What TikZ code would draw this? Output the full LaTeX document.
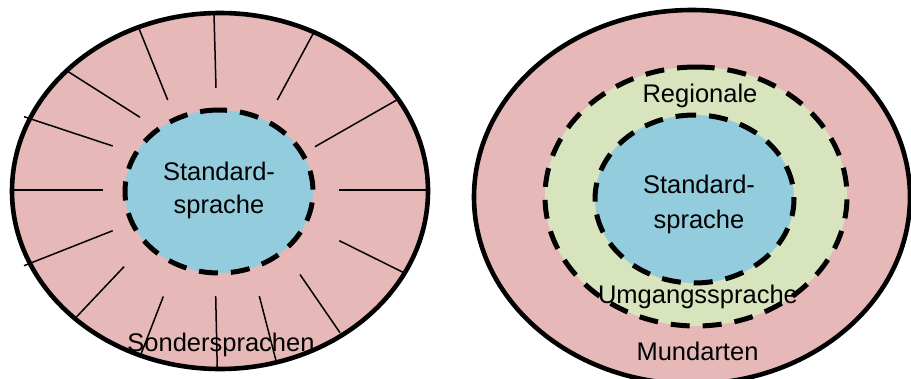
\documentclass[tikz,border=0pt]{standalone}
\usepackage{fontspec}
\setmainfont{Liberation Sans}
\definecolor{dialect}{HTML}{E6B9B8}
\definecolor{colloq}{HTML}{D7E4BD}
\definecolor{standard}{HTML}{93CDDD}
\begin{document}
\begin{tikzpicture}[x=1pt,y=-1pt,
  outerring/.style={fill=dialect, draw=black, line width=4.6pt},
  dashring/.style={draw=black, line width=5pt, dash pattern=on 19pt off 13pt},
  spoke/.style={draw=black, line width=1.5pt},
  txt/.style={font=\fontsize{25.5}{33}\selectfont, inner sep=0pt, align=center, text=black},
]
\useasboundingbox (0,0) rectangle (911,378);
\clip (0,0) rectangle (911,378);

% ---------- left: standard language surrounded by special languages ----------
\path[outerring] (220,191) ellipse [x radius=208pt, y radius=178pt];
\foreach \a/\b in {
  {214,14}/{216,88}, {139.3,29.3}/{167.7,100}, {68.3,71.7}/{140,117.3},
  {24,116.7}/{112.7,146}, {14,190}/{103.3,190}, {24,265.7}/{112.7,230.7},
  {76.7,316.7}/{124,266.7}, {140,356.7}/{163.3,296.5}, {217.3,370}/{215.7,296},
  {276.7,363.3}/{259.3,296}, {340,332.7}/{300,274.5}, {405,273.3}/{339.3,240.7},
  {339.3,190}/{428.3,190}, {315,146.7}/{396.7,100}, {277.3,100}/{313.3,33.3}}
  \draw[spoke] (\a) -- (\b);
\path[fill=standard] (219,191.5) ellipse [x radius=94pt, y radius=81.5pt];
\draw[dashring] (219,110) arc [start angle=90, end angle=450, x radius=94pt, y radius=81.5pt];
\node[txt] (stdL) at (219,190) {Standard-\\sprache};
\node[txt, anchor=base] (sonder) at (221,351) {Sondersprachen};

% ---------- right: standard language, regional colloquial language, dialects ----------
\path[outerring] (692,197) ellipse [x radius=218pt, y radius=187pt];
\path[fill=colloq] (696,196.5) ellipse [x radius=151pt, y radius=129.5pt];
\draw[dashring] (696,67) arc [start angle=90, end angle=450, x radius=151pt, y radius=129.5pt];
\path[fill=standard] (694.5,199) ellipse [x radius=99.5pt, y radius=84pt];
\draw[dashring] (694.5,115) arc [start angle=90, end angle=450, x radius=99.5pt, y radius=84pt];
\node[txt] (region) [anchor=base] at (700,102) {Regionale};
\node[txt, font=\fontsize{25.5}{35}\selectfont] (stdR) at (699,204) {Standard-\\sprache};
\node[txt, anchor=base] (umgang) at (698,303) {Umgangssprache};
\node[txt, anchor=base] (mund) at (697.5,360) {Mundarten};
\end{tikzpicture}
\end{document}
